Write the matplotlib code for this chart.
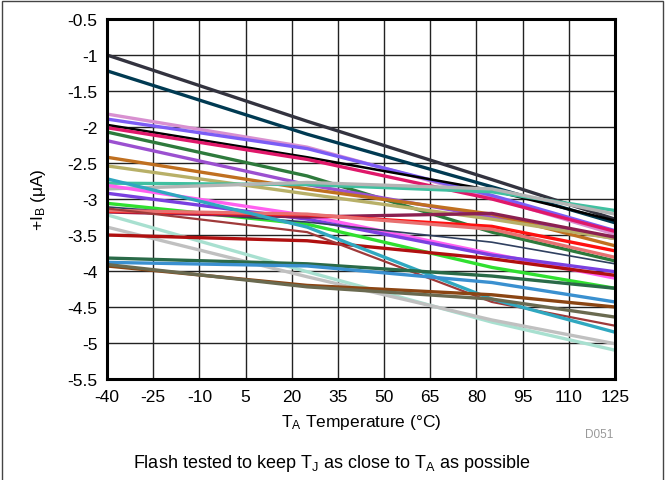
import matplotlib
matplotlib.use("Agg")
import matplotlib.pyplot as plt
from matplotlib.patches import Rectangle

plt.rcParams['font.family'] = ['Liberation Sans', 'DejaVu Sans']
plt.rcParams['mathtext.default'] = 'regular'
plt.rcParams['axes.unicode_minus'] = False

temps = [-40, 25, 85, 125]

series_colors = [
    '#33333f', '#003a52', '#d890d0', '#7b5cf5', '#000000', '#e0186a',
    '#2e7a3c', '#9b50d0', '#c07020', '#b8b068', '#40c0a0', '#b4b4b4',
    '#ff60f0', '#7a40e0', '#30e030', '#304060', '#8b2050', '#ff1010',
    '#e87070', '#a8e0d0', '#c0c0c0', '#b01010', '#a03a3a', '#30a8c0',
    '#2a6a48', '#3a90d0', '#8b4513', '#6a6a50',
]

series_values = [
    [-1.00, -1.92, -2.73, -3.28],
    [-1.22, -2.10, -2.83, -3.33],
    [-1.82, -2.28, -2.98, -3.49],
    [-1.89, -2.30, -2.95, -3.44],
    [-1.97, -2.42, -2.88, -3.30],
    [-2.01, -2.45, -3.00, -3.45],
    [-2.07, -2.68, -3.46, -3.86],
    [-2.19, -2.80, -3.25, -3.55],
    [-2.42, -2.86, -3.21, -3.65],
    [-2.54, -2.93, -3.28, -3.55],
    [-2.78, -2.80, -2.90, -3.16],
    [-2.86, -2.77, -2.86, -3.21],
    [-2.81, -3.23, -3.76, -4.10],
    [-2.92, -3.28, -3.78, -4.01],
    [-3.06, -3.35, -3.95, -4.24],
    [-3.11, -3.32, -3.60, -3.90],
    [-3.18, -3.25, -3.20, -3.53],
    [-3.17, -3.22, -3.38, -3.72],
    [-3.16, -3.21, -3.42, -3.81],
    [-3.22, -4.01, -4.71, -5.10],
    [-3.39, -4.08, -4.68, -5.01],
    [-3.50, -3.58, -3.83, -4.06],
    [-3.13, -3.46, -4.43, -4.76],
    [-2.72, -3.39, -4.39, -4.85],
    [-3.82, -3.90, -4.07, -4.24],
    [-3.88, -3.93, -4.16, -4.43],
    [-3.93, -4.20, -4.33, -4.50],
    [-3.91, -4.22, -4.39, -4.64],
]

series_widths = [2.4] * len(series_values)
series_widths[15] = 1.2
series_widths[22] = 1.6
series_widths[4] = 1.8

x_ticks = [-40, -25, -10, 5, 20, 35, 50, 65, 80, 95, 110, 125]
y_ticks = [-5.5, -5, -4.5, -4, -3.5, -3, -2.5, -2, -1.5, -1, -0.5]
y_tick_labels = ['-5.5', '-5', '-4.5', '-4', '-3.5', '-3', '-2.5', '-2', '-1.5', '-1', '-0.5']

fig = plt.figure(figsize=(6.65, 4.81), dpi=100)
ax = fig.add_axes([107 / 665, 1 - 380 / 481, (615 - 107) / 665, (380 - 20) / 481])

for vals, col, lw in zip(series_values, series_colors, series_widths):
    ax.plot(temps, vals, color=col, lw=lw, solid_capstyle='butt', zorder=3)

ax.set_xlim(-40, 125)
ax.set_ylim(-5.5, -0.5)
ax.set_xticks(x_ticks)
ax.set_yticks(y_ticks)
ax.set_yticklabels(y_tick_labels)
ax.tick_params(axis='both', length=0, labelsize=12.5, pad=7, colors='black')
ax.grid(True, color='#222222', lw=1.0, zorder=1)
for sp in ax.spines.values():
    sp.set_linewidth(2.2)
    sp.set_color('black')
    sp.set_zorder(5)

ax.set_xlabel('T$_{A}$ Temperature (°C)', fontsize=12.5, labelpad=6)
ax.set_ylabel('+I$_{B}$ (μA)', fontsize=12.5, labelpad=14)

fig.text(613 / 665, 1 - 435 / 481, 'D051', fontsize=8.5, color='#999999', ha='right', va='center')
fig.text(332 / 665, 1 - 464 / 481, 'Flash tested to keep T$_{J}$ as close to T$_{A}$ as possible',
         fontsize=13, ha='center', va='center')

fig.patches.append(Rectangle((0.003, -0.01), 0.994, 1.005, transform=fig.transFigure,
                             fill=False, edgecolor='#444444', lw=1.0))

fig.savefig('out.png', dpi=100)
